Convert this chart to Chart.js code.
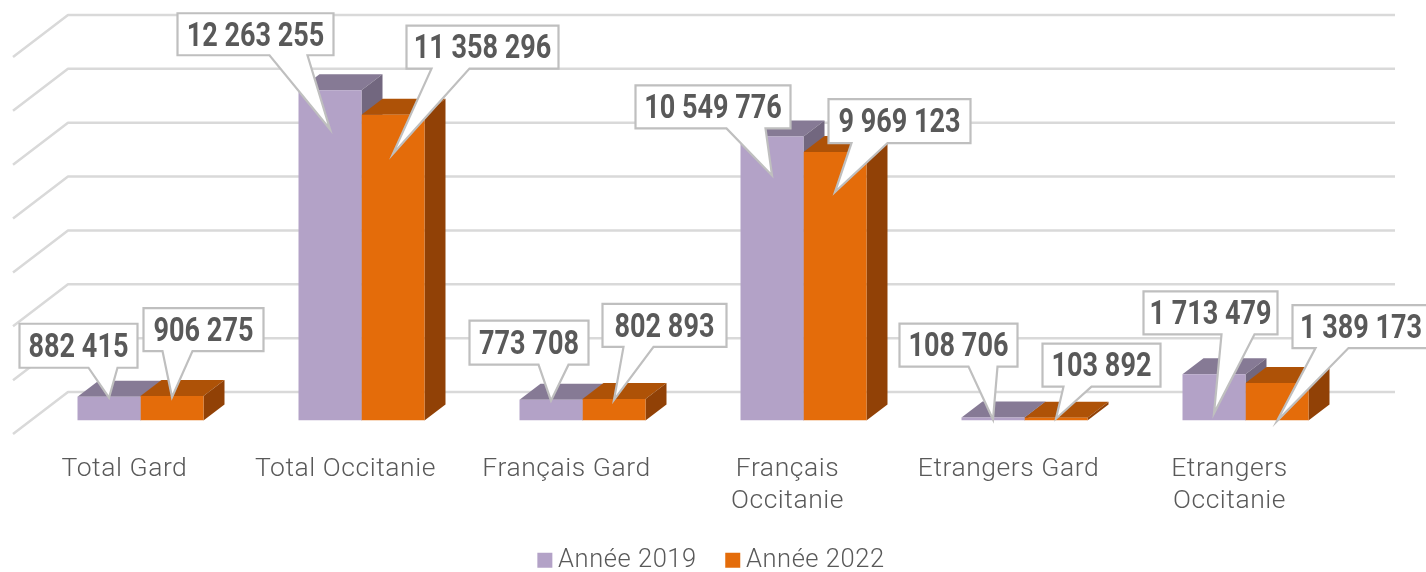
<!DOCTYPE html>
<html lang="fr">
<head>
<meta charset="utf-8">
<title>Année 2019 / Année 2022</title>
<style>
html,body{margin:0;padding:0;background:#fff;overflow:hidden}
canvas{display:block}
</style>
<script src="https://cdn.jsdelivr.net/npm/chart.js@4/dist/chart.umd.js"></script>
</head>
<body>
<canvas id="c" width="1426" height="572"></canvas>
<script>
const categories = ['Total Gard','Total Occitanie','Français Gard',['Français','Occitanie'],'Etrangers Gard',['Etrangers','Occitanie']];
const seriesNames = ['Année 2019','Année 2022'];
const values2019 = [882415,12263255,773708,10549776,108706,1713479];
const values2022 = [906275,11358296,802893,9969123,103892,1389173];
const gridMax = 14000000;
const gridStep = 2000000;

/* callout layout, relative to each bar: tip drop below the bar top, then
   box left, top, right, bottom and pointer base left, right, relative to the tip */
const calloutDrop2019 = [1,39,1,39,2,39];
const calloutDrop2022 = [1,39,1,40,1,38];
const calloutBox2019 = [[-89.5,-74,28.5,-30,-20.5,8.5],[-152.5,-116,3.5,-74,-60.5,-22.5],[-81.5,-80,37.5,-36,-12.5,17.5],[-136.5,-90,18.5,-47,-45.5,-6.5],[-93.5,-96,24.5,-53,-24.5,4.5],[-70.5,-122,63.5,-79,7.5,40.5]];
const calloutBox2022 = [[-28.5,-89,91.5,-46,-9.5,20.5],[13.5,-128,165.5,-85,38.5,76.5],[-11.5,-96,112.5,-53,9.5,39.5],[-6.5,-93,135.5,-49,16.5,52.5],[-13.5,-75,104.5,-32,7.5,35.5],[15.5,-116,152.5,-73,38.5,71.5]];

const faceColors = [
  {front:'#B3A2C7', top:'#867A95', side:'#72677F'},
  {front:'#E46C0A', top:'#AE5207', side:'#914106'}
];
const textColor = '#595959';
const gridColor = '#D9D9D9';
const calloutBorder = '#BFBFBF';
const barDepth = {dx:21, dy:-16};
const wallOffset = {dy:-28.5, left:38, right:1395, diagDx:-55, diagDy:42};

const fmt = v => String(v).replace(/\B(?=(\d{3})+$)/g,' ');

function poly(ctx, pts, fill){
  ctx.beginPath();
  pts.forEach((p,i)=> i ? ctx.lineTo(p[0],p[1]) : ctx.moveTo(p[0],p[1]));
  ctx.closePath();
  ctx.fillStyle = fill;
  ctx.fill();
}

const spacing = {
  id:'spacing',
  beforeUpdate(c){ c.ctx.letterSpacing='0.55px'; },
  beforeDraw(c){ c.ctx.letterSpacing='0.55px'; },
  afterLayout(c){ const h=c.legend.height; c.legend.top=512; c.legend.bottom=512+h; c.legend.left+=21.5; c.legend.right+=21.5; }
};

const wall = {
  id:'wall',
  beforeDatasetsDraw(c){
    const ctx=c.ctx, y=c.scales.y;
    ctx.save();
    ctx.strokeStyle=gridColor; ctx.lineWidth=2.5; ctx.lineJoin='round';
    const x0=c.scales.x.left+wallOffset.left;
    y.ticks.forEach(t=>{
      const py=y.getPixelForValue(t.value)+wallOffset.dy;
      ctx.beginPath();
      ctx.moveTo(x0+wallOffset.diagDx,py+wallOffset.diagDy);
      ctx.lineTo(x0,py);
      ctx.lineTo(wallOffset.right,py);
      ctx.stroke();
    });
    ctx.restore();
    /* top and side faces of the bars, behind the library's front faces */
    ctx.save();
    c.data.datasets.forEach((ds,i)=>{
      const col=faceColors[i];
      c.getDatasetMeta(i).data.forEach(b=>{
        const l=b.x-b.width/2, r=b.x+b.width/2, t=b.y, bs=b.base, dx=barDepth.dx, dy=barDepth.dy;
        poly(ctx,[[l,t],[r,t],[r+dx,t+dy],[l+dx,t+dy]],col.top);
        poly(ctx,[[r,t],[r+dx,t+dy],[r+dx,bs+dy],[r,bs]],col.side);
      });
    });
    ctx.restore();
  }
};

const callouts = {
  id:'callouts',
  afterDatasetsDraw(c){
    const ctx=c.ctx;
    const drops=[calloutDrop2019,calloutDrop2022], boxes=[calloutBox2019,calloutBox2022];
    c.data.datasets.forEach((ds,i)=>{
      c.getDatasetMeta(i).data.forEach((b,k)=>{
        const tx=b.x, ty=b.y+drops[i][k], [L,T,R,B,bl,br]=boxes[i][k];
        ctx.save();
        ctx.beginPath();
        ctx.moveTo(tx+L,ty+T);
        ctx.lineTo(tx+R,ty+T);
        ctx.lineTo(tx+R,ty+B);
        ctx.lineTo(tx+br,ty+B);
        ctx.lineTo(tx,ty);
        ctx.lineTo(tx+bl,ty+B);
        ctx.lineTo(tx+L,ty+B);
        ctx.closePath();
        ctx.fillStyle='#fff'; ctx.fill();
        ctx.strokeStyle=calloutBorder; ctx.lineWidth=2.2; ctx.lineJoin='miter'; ctx.stroke();
        ctx.letterSpacing='0px';
        ctx.fillStyle=textColor;
        ctx.font='700 33px Roboto';
        ctx.textAlign='center'; ctx.textBaseline='middle';
        const cx=tx+(L+R)/2, cy=ty+(T+B)/2+3;
        const sx=0.82;
        ctx.translate(cx,cy); ctx.scale(sx,1);
        ctx.fillText(fmt(ds.data[k]),0,0);
        ctx.restore();
      });
    });
  }
};

new Chart(document.getElementById('c'),{
  type:'bar',
  data:{
    labels:categories,
    datasets:[
      {label:seriesNames[0],data:values2019,backgroundColor:faceColors[0].front,borderWidth:0},
      {label:seriesNames[1],data:values2022,backgroundColor:faceColors[1].front,borderWidth:0}
    ]
  },
  options:{
    responsive:false,
    animation:false,
    devicePixelRatio:1,
    layout:{padding:{left:30,right:70,top:43.5,bottom:-29.5}},
    datasets:{bar:{categoryPercentage:0.5701,barPercentage:1}},
    scales:{
      x:{
        grid:{display:false},
        border:{display:false},
        ticks:{color:textColor,font:{family:'Roboto',size:26.5,weight:'300',lineHeight:1.2},padding:25,labelOffset:-16,autoSkip:false,maxRotation:0,minRotation:0},
        afterFit(s){ s.height=110; }
      },
      y:{
        min:0,max:gridMax,
        grid:{display:false},
        border:{display:false},
        ticks:{display:false,stepSize:gridStep},
        afterFit(s){ s.width=0; }
      }
    },
    plugins:{
      legend:{
        position:'bottom',
        labels:{color:textColor,font:{family:'Roboto',size:25.5,weight:'300'},usePointStyle:true,pointStyle:'rect',boxWidth:1,boxHeight:15,padding:35.5}
      },
      tooltip:{enabled:false}
    }
  },
  plugins:[spacing,wall,callouts]
});
</script>
</body>
</html>
